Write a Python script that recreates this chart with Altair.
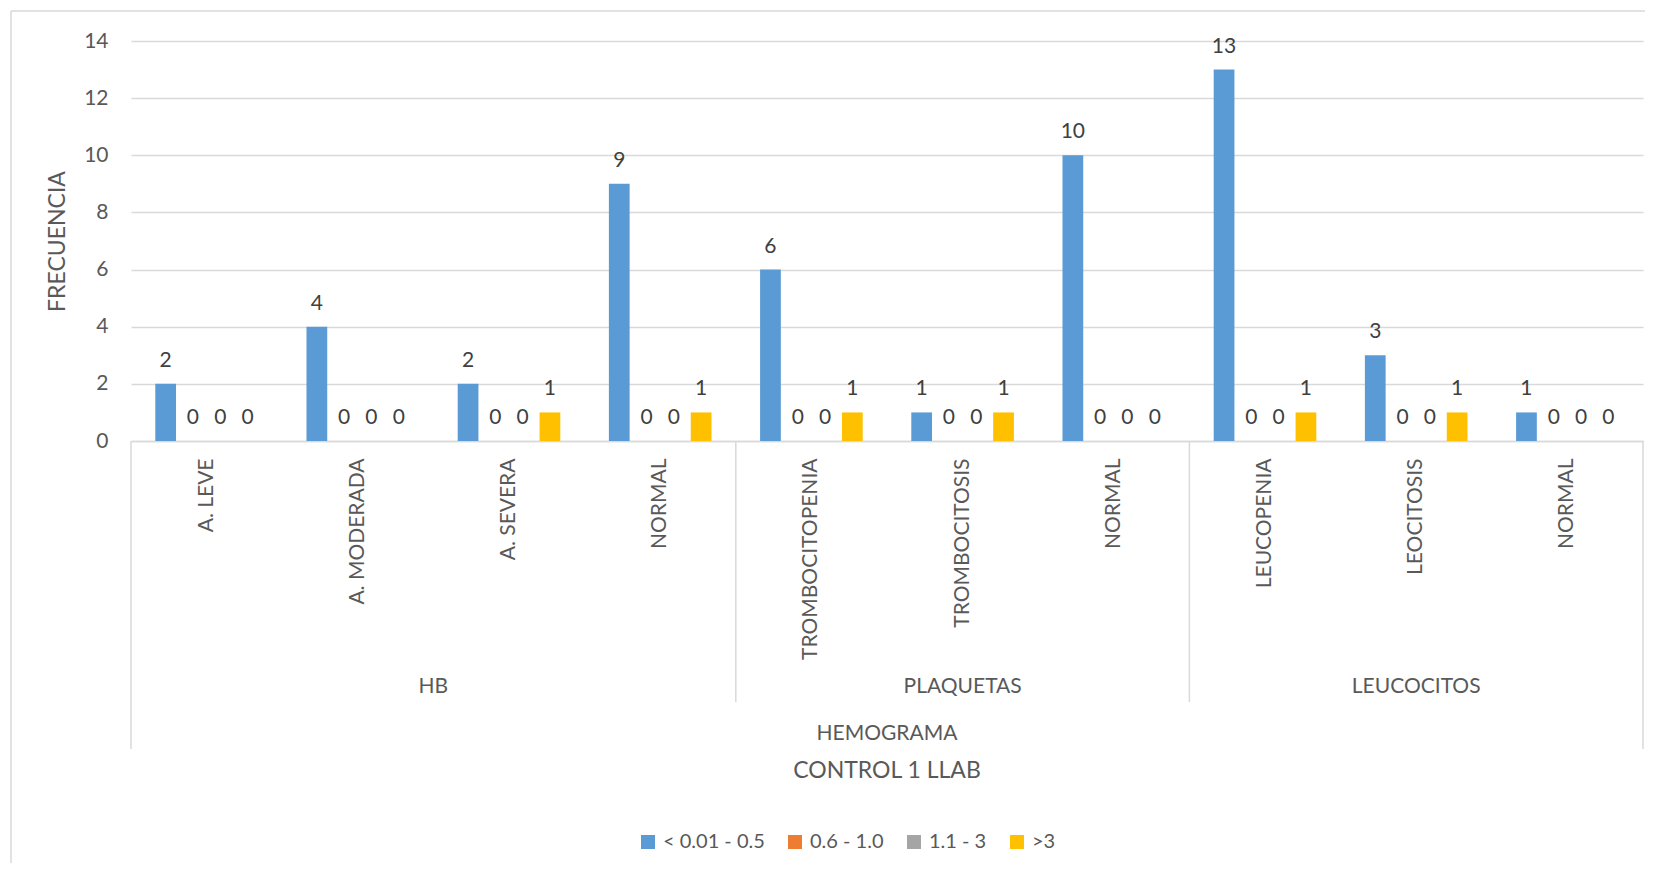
import pandas as pd
import altair as alt

# Datos
categorias = ["A. LEVE", "A. MODERADA", "A. SEVERA", "NORMAL",
              "TROMBOCITOPENIA", "TROMBOCITOSIS", "NORMAL",
              "LEUCOPENIA", "LEOCITOSIS", "NORMAL"]
grupos = ["HB", "HB", "HB", "HB",
          "PLAQUETAS", "PLAQUETAS", "PLAQUETAS",
          "LEUCOCITOS", "LEUCOCITOS", "LEUCOCITOS"]
series = ["< 0.01 - 0.5", "0.6 - 1.0", "1.1 - 3", ">3"]
serie_1 = [2, 4, 2, 9, 6, 1, 10, 13, 3, 1]
serie_2 = [0, 0, 0, 0, 0, 0, 0, 0, 0, 0]
serie_3 = [0, 0, 0, 0, 0, 0, 0, 0, 0, 0]
serie_4 = [0, 0, 1, 1, 1, 1, 0, 1, 1, 0]
colores = ["#5B9BD5", "#ED7D31", "#A5A5A5", "#FFC000"]

FUENTE = "Lato"
GRIS_TEXTO = "#595959"
GRIS_LINEA = "#D9D9D9"
W, H = 1512, 400

# Tabla larga (clave unica porque NORMAL se repite)
claves = [f"{i:02d}|{c}" for i, c in enumerate(categorias)]
filas = []
for s, valores in zip(series, [serie_1, serie_2, serie_3, serie_4]):
    for k, v in zip(claves, valores):
        filas.append({"clave": k, "serie": s, "valor": v})
df = pd.DataFrame(filas)

# Grupos del eje (inicio/fin en indices de categoria)
n = len(categorias)
df_grupos = (pd.DataFrame({"grupo": grupos, "i": range(n)})
             .groupby("grupo", sort=False)["i"].agg(["min", "max"]).reset_index())
df_grupos["centro"] = (df_grupos["min"] + df_grupos["max"] + 1) / 2
limites_int = pd.DataFrame({"pos": df_grupos["min"].iloc[1:].values})
limites_ext = pd.DataFrame({"pos": [0, n]})
df_titulo = pd.DataFrame({"texto": ["HEMOGRAMA"], "centro": [n / 2]})
df_eje = pd.DataFrame({"texto": ["CONTROL 1 LLAB"], "centro": [n / 2]})

x_scale = alt.Scale(domain=claves, paddingInner=0, paddingOuter=0)
x_band = alt.X(
    "clave:N", sort=claves, scale=x_scale,
    axis=alt.Axis(title=None, labelExpr="split(datum.label, '|')[1]", labelAngle=-90,
                  labelFont=FUENTE, labelFontSize=21, labelColor=GRIS_TEXTO,
                  labelPadding=17, ticks=False, tickSize=0, domainColor=GRIS_LINEA,
                  domainWidth=1.5, grid=False, labelLimit=0),
)
x_band_sin_eje = alt.X("clave:N", sort=claves, scale=x_scale, axis=None)
x_off = alt.XOffset("serie:N", sort=series,
                    scale=alt.Scale(domain=series, paddingInner=0.24, paddingOuter=0.89))
y_enc = alt.Y(
    "valor:Q", scale=alt.Scale(domain=[0, 14]),
    axis=alt.Axis(title="FRECUENCIA", values=list(range(0, 15, 2)), domain=False,
                  ticks=False, tickSize=0, labelPadding=23, labelFont=FUENTE,
                  labelFontSize=21, labelColor=GRIS_TEXTO, gridColor=GRIS_LINEA,
                  gridWidth=1.5, titleFont=FUENTE, titleFontSize=23,
                  titleFontWeight="normal", titleColor=GRIS_TEXTO, titlePadding=14),
)

barras = alt.Chart(df).mark_bar().encode(
    x=x_band, xOffset=x_off, y=y_enc,
    color=alt.Color("serie:N", sort=series, scale=alt.Scale(domain=series, range=colores),
                    legend=alt.Legend(title=None, orient="none", direction="horizontal",
                                      columns=4, legendX=507, legendY=791,
                                      symbolType="square", symbolSize=196,
                                      symbolStrokeWidth=0, labelFont=FUENTE,
                                      labelFontSize=20, labelColor=GRIS_TEXTO,
                                      labelOffset=5, columnPadding=20)),
)

etiquetas = alt.Chart(df).mark_text(
    baseline="alphabetic", dy=-17, font=FUENTE, fontSize=21, color="#404040"
).encode(x=x_band_sin_eje, xOffset=x_off, y="valor:Q", text="valor:Q")

# Decoracion del eje de categorias de varios niveles
xq = alt.Scale(domain=[0, n], nice=False, zero=False)
sep_int = alt.Chart(limites_int).mark_rule(color=GRIS_LINEA, strokeWidth=1.5).encode(
    x=alt.X("pos:Q", scale=xq, axis=None), y=alt.value(H), y2=alt.value(661))
sep_ext = alt.Chart(limites_ext).mark_rule(color=GRIS_LINEA, strokeWidth=1.5).encode(
    x=alt.X("pos:Q", scale=xq, axis=None), y=alt.value(H), y2=alt.value(708))
txt_grupos = alt.Chart(df_grupos).mark_text(
    font=FUENTE, fontSize=21, color=GRIS_TEXTO, baseline="middle"
).encode(x=alt.X("centro:Q", scale=xq, axis=None), y=alt.value(646), text="grupo:N")
txt_titulo = alt.Chart(df_titulo).mark_text(
    font=FUENTE, fontSize=21, color=GRIS_TEXTO, baseline="middle"
).encode(x=alt.X("centro:Q", scale=xq, axis=None), y=alt.value(693), text="texto:N")
txt_eje = alt.Chart(df_eje).mark_text(
    font=FUENTE, fontSize=23, color=GRIS_TEXTO, baseline="middle"
).encode(x=alt.X("centro:Q", scale=xq, axis=None), y=alt.value(730), text="texto:N")

# Marco del area del grafico
dummy = pd.DataFrame({"d": [0]})
marco_sup = alt.Chart(dummy).mark_rule(color=GRIS_LINEA, strokeWidth=1.5).encode(
    x=alt.value(-120), x2=alt.value(1514), y=alt.value(-30))
marco_izq = alt.Chart(dummy).mark_rule(color=GRIS_LINEA, strokeWidth=1.5).encode(
    x=alt.value(-120), y=alt.value(-30), y2=alt.value(822))

chart = alt.layer(
    marco_sup, marco_izq, barras, etiquetas, sep_int, sep_ext,
    txt_grupos, txt_titulo, txt_eje,
).resolve_scale(x="independent").properties(
    width=W, height=H, padding={"left": 2, "top": 2, "right": 0, "bottom": 0},
).configure_view(stroke=None)

chart.save("out.html", embed_options={"renderer": "svg", "actions": False})
